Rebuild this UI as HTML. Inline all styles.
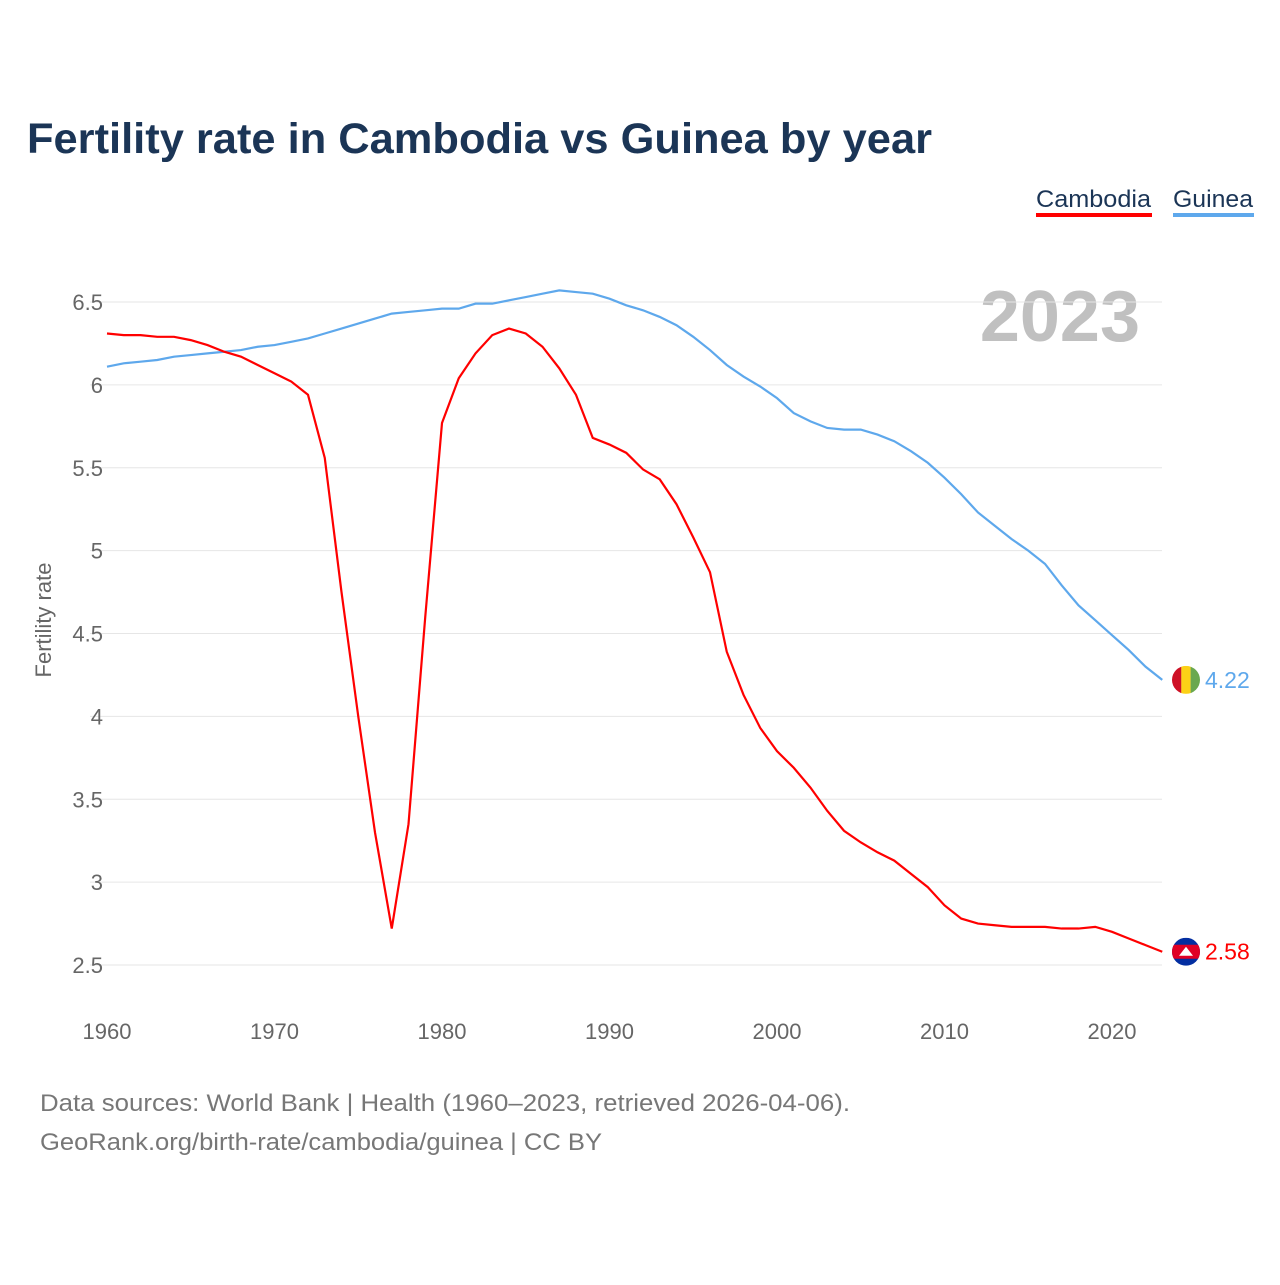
<!DOCTYPE html>
<html><head><meta charset="utf-8"><style>
body{margin:0;background:#fff;width:1280px;height:1280px;overflow:hidden;font-family:"Liberation Sans",sans-serif}
</style></head><body>
<svg width="1280" height="1280" id="chart" xmlns="http://www.w3.org/2000/svg">
<text x="27" y="153" font-size="43" font-weight="bold" fill="#1b3556" textLength="905" lengthAdjust="spacingAndGlyphs">Fertility rate in Cambodia vs Guinea by year</text>
<g><text x="1036" y="207" font-size="24" fill="#1b3556" textLength="115" lengthAdjust="spacingAndGlyphs">Cambodia</text><rect x="1036" y="213" width="116" height="4" fill="#ff0000"/></g>
<g><text x="1173" y="207" font-size="24" fill="#1b3556" textLength="80" lengthAdjust="spacingAndGlyphs">Guinea</text><rect x="1173" y="213" width="81" height="4" fill="#5ea8ec"/></g>
<text x="1140" y="341" font-size="72" font-weight="bold" fill="#c0c0c0" text-anchor="end">2023</text>
<text transform="translate(51,620) rotate(-90)" font-size="22" fill="#666" text-anchor="middle">Fertility rate</text>
<g id="grid"></g><g id="yt"></g><g id="xt"></g><g id="lines"></g>
<text x="40" y="1111" font-size="24" fill="#777" textLength="810" lengthAdjust="spacingAndGlyphs">Data sources: World Bank | Health (1960–2023, retrieved 2026-04-06).</text>
<text x="40" y="1150" font-size="24" fill="#777" textLength="562" lengthAdjust="spacingAndGlyphs">GeoRank.org/birth-rate/cambodia/guinea | CC BY</text>
</svg>
<script>
const years=[];for(let y=1960;y<=2023;y++)years.push(y);
const cambodia=[6.31,6.30,6.30,6.29,6.29,6.27,6.24,6.20,6.17,6.12,6.07,6.02,5.94,5.56,4.75,4.0,3.3,2.72,3.35,4.6,5.77,6.04,6.19,6.30,6.34,6.31,6.23,6.10,5.94,5.68,5.64,5.59,5.49,5.43,5.28,5.08,4.87,4.39,4.13,3.93,3.79,3.69,3.57,3.43,3.31,3.24,3.18,3.13,3.05,2.97,2.86,2.78,2.75,2.74,2.73,2.73,2.73,2.72,2.72,2.73,2.70,2.66,2.62,2.58];
const guinea=[6.11,6.13,6.14,6.15,6.17,6.18,6.19,6.20,6.21,6.23,6.24,6.26,6.28,6.31,6.34,6.37,6.40,6.43,6.44,6.45,6.46,6.46,6.49,6.49,6.51,6.53,6.55,6.57,6.56,6.55,6.52,6.48,6.45,6.41,6.36,6.29,6.21,6.12,6.05,5.99,5.92,5.83,5.78,5.74,5.73,5.73,5.70,5.66,5.60,5.53,5.44,5.34,5.23,5.15,5.07,5.00,4.92,4.79,4.67,4.58,4.49,4.40,4.30,4.22];
const yTicks=[2.5,3,3.5,4,4.5,5,5.5,6,6.5];
const xTicks=[1960,1970,1980,1990,2000,2010,2020];
const X=y=>107+(y-1960)*16.75, Y=v=>965-(v-2.5)*165.75;
const NS="http://www.w3.org/2000/svg";
function mk(t,a,p){const e=document.createElementNS(NS,t);for(const k in a)e.setAttribute(k,a[k]);p.appendChild(e);return e;}
const g=document.getElementById('grid'),yt=document.getElementById('yt'),xt=document.getElementById('xt'),L=document.getElementById('lines');
yTicks.forEach(v=>{const l=mk('line',{x1:90,x2:1162,y1:Y(v),y2:Y(v),stroke:'#e6e6e6','stroke-width':1},g);


const t=mk('text',{x:103,y:Y(v)+8,'font-size':22,fill:'#666','text-anchor':'end'},yt);t.textContent=String(v);

});
xTicks.forEach(v=>{const t=mk('text',{x:X(v),y:1039,'font-size':22,fill:'#666','text-anchor':'middle'},xt);t.textContent=String(v);

});
function line(d,c,n){const p=mk('path',{d:d.map((v,i)=>(i?'L':'M')+X(years[i])+','+Y(v)).join(''),fill:'none',stroke:c,'stroke-width':2.2},L);

}
line(guinea,'#5ea8ec','guinea-line');line(cambodia,'#ff0000','cambodia-line');
const gl=guinea[guinea.length-1],cl=cambodia[cambodia.length-1];
const fg=mk('g',{},L);


mk('clipPath',{id:'cg'},fg);mk('circle',{cx:1186,cy:Y(gl),r:14},fg.lastChild);
[['#ce1126',1172],['#fcd116',1181.3],['#6aa84f',1190.6]].forEach(([c,x])=>mk('rect',{x:x,y:Y(gl)-14,width:9.4,height:28,fill:c,'clip-path':'url(#cg)'},fg));
const gv=mk('text',{x:1205,y:Y(gl)+8,'font-size':23,fill:'#5ea8ec'},L);gv.textContent=gl.toFixed(2);


const fc=mk('g',{},L);


mk('clipPath',{id:'cc'},fc);mk('circle',{cx:1186,cy:Y(cl),r:14},fc.lastChild);
mk('rect',{x:1172,y:Y(cl)-14,width:28,height:28,fill:'#032ea1','clip-path':'url(#cc)'},fc);
mk('rect',{x:1172,y:Y(cl)-7,width:28,height:14,fill:'#e00025','clip-path':'url(#cc)'},fc);
mk('path',{d:`M1179,${Y(cl)+4}L1186,${Y(cl)-5}L1193,${Y(cl)+4}Z`,fill:'#fff'},fc);
const cv=mk('text',{x:1205,y:Y(cl)+8,'font-size':23,fill:'#ff0000'},L);cv.textContent=cl.toFixed(2);


</script>
</body></html>
